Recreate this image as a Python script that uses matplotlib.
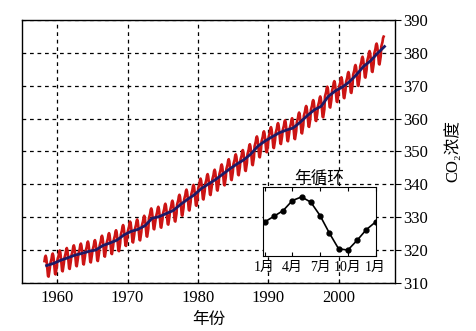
import numpy as np
import matplotlib
matplotlib.use("Agg")
import matplotlib.pyplot as plt

# Annual mean CO2 (ppm), 1958-2006
years = list(range(1958, 2007))
annual_co2 = [315.3, 315.97, 316.91, 317.64, 318.45, 318.99, 319.62, 320.04, 321.38,
              322.16, 323.04, 324.62, 325.68, 326.32, 327.45, 329.68, 330.18, 331.11,
              332.04, 333.83, 335.40, 336.84, 338.75, 340.11, 341.45, 343.05, 344.65,
              346.12, 347.42, 349.19, 351.57, 353.12, 354.39, 355.61, 356.45, 357.10,
              358.83, 360.82, 362.61, 363.73, 366.70, 368.38, 369.55, 371.14, 373.28,
              375.80, 377.52, 379.80, 381.90]
# Seasonal cycle anomaly (ppm), Jan..Dec then Jan again
months = list(range(1, 14))
seasonal = [0.0, 0.68, 1.36, 2.56, 3.0, 2.36, 0.76, -1.32, -3.2, -3.36, -2.2, -0.92, 0.0]
month_ticks = [1, 4, 7, 10, 13]
month_labels = ["1月", "4月", "7月", "10月", "1月"]
first_month = 3   # March 1958
last_month = 5    # May 2006

# monthly series
t, co2 = [], []
for yi, y in enumerate(years):
    for m in range(1, 13):
        if (y == years[0] and m < first_month) or (y == years[-1] and m > last_month):
            continue
        t.append(y + (m - 0.5) / 12)
        co2.append(annual_co2[yi] + seasonal[m - 1])
trend_t = [y + 0.5 for y in years]

serif = ["Liberation Serif", "Noto Sans CJK SC", "DejaVu Sans"]
plt.rcParams["font.family"] = serif

fig = plt.figure(figsize=(4.76, 3.31), dpi=100)
ax = fig.add_axes([0.046, 0.145, 0.784, 0.795])
ax.plot(t, co2, color="#cc1414", lw=1.9, zorder=3)
ax.plot(trend_t, annual_co2, color="#1c1a66", lw=2.0, zorder=4)
ax.set_xlim(1955, 2008)
ax.set_ylim(310, 390)
ax.set_xticks([1960, 1970, 1980, 1990, 2000])
ax.set_yticks(range(310, 391, 10))
ax.yaxis.tick_right()
ax.yaxis.set_label_position("right")
ax.tick_params(axis="x", direction="in", length=3, labelsize=12, pad=5)
ax.tick_params(axis="y", direction="out", length=4, labelsize=12, pad=2)
ax.grid(True, color="black", linestyle=(0, (3, 3)), lw=0.9, zorder=1)
ax.set_xlabel("年份", fontsize=12, labelpad=4)
ax.set_ylabel("CO₂浓度", fontsize=12, labelpad=12)
for s in ax.spines.values():
    s.set_linewidth(1.0)

ins = fig.add_axes([0.5525, 0.227, 0.2374, 0.2085])
ins.set_facecolor("white")
ins.set_zorder(5)
ins.plot(months, seasonal, color="black", lw=1.2, marker="o", ms=3.5)
ins.set_xlim(0.82, 13.05)
ins.set_ylim(-4.05, 4.2)
ins.set_xticks(month_ticks)
ins.set_xticklabels(month_labels)
ins.set_yticks([])
ins.tick_params(axis="x", direction="in", length=3, top=True, labelsize=10, pad=4)
ins.set_title("年循环", fontsize=12, pad=3)

fig.savefig("out.png", dpi=100)
